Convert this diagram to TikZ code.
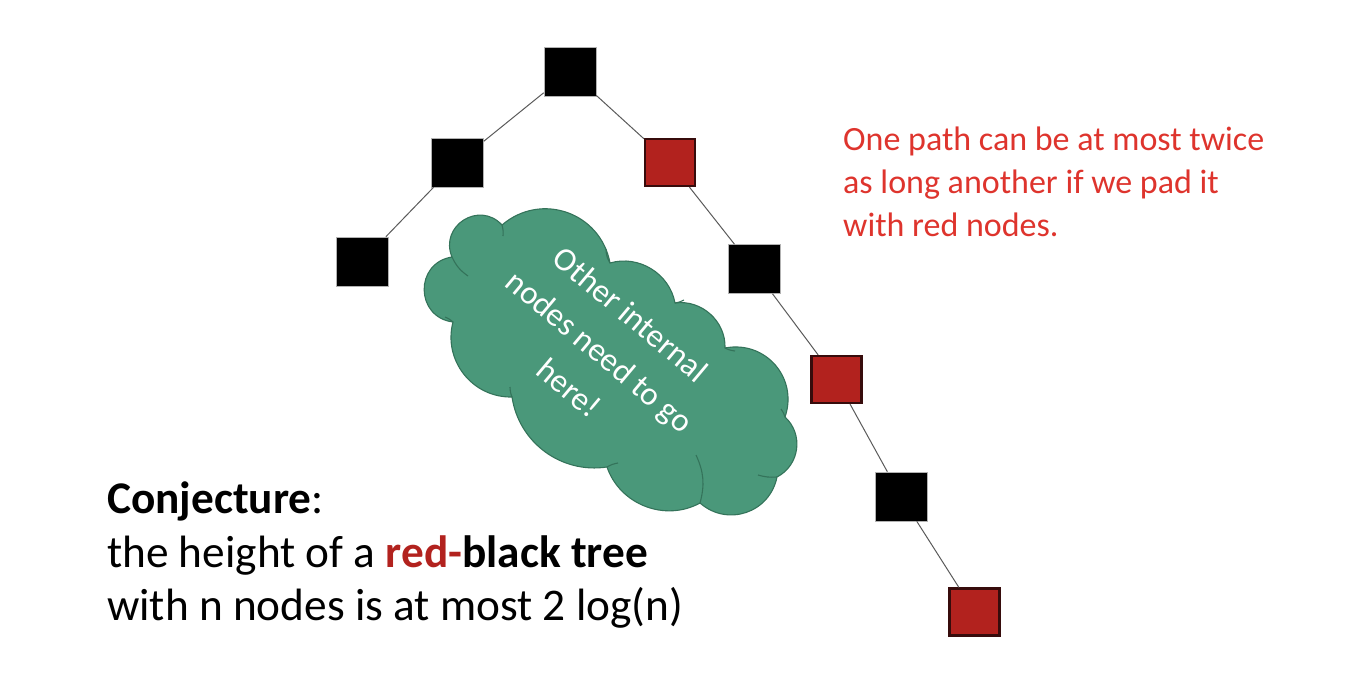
\documentclass[tikz,border=0pt]{standalone}
\usepackage{fontspec}
\setmainfont{Carlito}
\definecolor{nodered}{RGB}{178,34,30}
\definecolor{nodeedge}{RGB}{55,12,12}
\definecolor{txtred}{RGB}{222,52,45}
\definecolor{wordred}{RGB}{178,34,30}
\definecolor{cloudfill}{RGB}{74,152,122}
\definecolor{cloudedge}{RGB}{52,115,90}
\definecolor{edgegray}{RGB}{90,90,90}
\tikzset{
  blk/.style={rectangle, minimum width=52pt, minimum height=49pt, inner sep=0pt, fill=black, draw=gray!60, line width=0.6pt},
  rdn/.style={rectangle, minimum width=50pt, minimum height=47pt, inner sep=0pt, fill=nodered, draw=nodeedge, line width=2.2pt},
  edge/.style={draw=edgegray, line width=1pt},
  cloudline/.style={draw=cloudedge, line width=1.1pt},
  redtxt/.style={anchor=base west, inner sep=0pt, text=txtred, font=\fontsize{34}{41}\selectfont},
  conj/.style={anchor=base west, inner sep=0pt, text=black, font=\fontsize{45.3}{54}\selectfont},
}
\begin{document}
\begin{tikzpicture}[x=1pt,y=-1pt]
\useasboundingbox (0,0) rectangle (1356,674);
% cloud outline
\path[cloudline, fill=cloudfill, line join=round]
  (452,257) to[bend left=80, looseness=1.45] (502,225)
  to[bend left=60, looseness=1.15] (610,263)
  to[bend left=48, looseness=1.0] (675,303)
  to[bend left=50, looseness=1.02] (725,348)
  to[bend left=60, looseness=1.15] (785,417)
  to[bend left=55, looseness=1.08] (777,477)
  to[bend left=60, looseness=1.15] (700,503)
  to[bend left=50, looseness=1.02] (607,467)
  to[bend left=45, looseness=1.0] (512,397)
  to[bend left=53, looseness=1.06] (453,322)
  to[bend left=82, looseness=1.5] (452,257) -- cycle;
% inner puff strokes
\draw[cloudline] (452,257) to[bend right=15] (468,276);
\draw[cloudline] (502,225) to[bend left=10] (503,236);
\draw[cloudline] (610,263) to[bend left=15] (606,249);
\draw[cloudline] (675,303) to[bend right=10] (684,300);
\draw[cloudline] (725,348) to[bend right=10] (735,351);
\draw[cloudline] (785,417) to[bend right=10] (781,409);
\draw[cloudline] (777,477) to[bend left=10] (758,475);
\draw[cloudline] (700,503) to[bend right=20] (696,455);
\draw[cloudline] (607,467) to[bend left=10] (618,463);
\draw[cloudline] (512,397) to[bend left=10] (510,387);
\draw[cloudline] (453,322) to[bend right=10] (445,317);
\node[rotate=-40, align=center, text=white, font=\fontsize{33}{48}\selectfont, inner sep=0pt] (cloudtxt) at (600,351) {Other internal\\nodes need to go\\here!};
% tree nodes
\node[blk] (r) at (570,71.5) {};
\node[blk] (a) at (457.5,162.5) {};
\node[rdn] (b) at (670,162.5) {};
\node[blk] (c) at (362,261.5) {};
\node[blk] (d) at (754,269) {};
\node[rdn] (e) at (836.5,379.5) {};
\node[blk] (f) at (901,496.5) {};
\node[rdn] (g) at (974.5,612) {};
% edges
\draw[edge] (r) -- (a);
\draw[edge] (r) -- (b);
\draw[edge] (a) -- (c);
\draw[edge] (b) -- (d);
\draw[edge] (d) -- (e);
\draw[edge] (e) -- (f);
\draw[edge] (f) -- (g);
% red text
\node[redtxt] (t1) at (843,150) {One path can be at most twice};
\node[redtxt] (t2) at (843,193) {as long another if we pad it};
\node[redtxt] (t3) at (843,236) {with red nodes.};
% conjecture
\node[conj] (c1) at (107,513) {\textbf{Conjecture}:};
\node[conj] (c2) at (107,567) {the height of a \textbf{\textcolor{wordred}{red-}black tree}};
\node[conj] (c3) at (107,620) {with n nodes is at most 2 log(n)};
\end{tikzpicture}
\end{document}
